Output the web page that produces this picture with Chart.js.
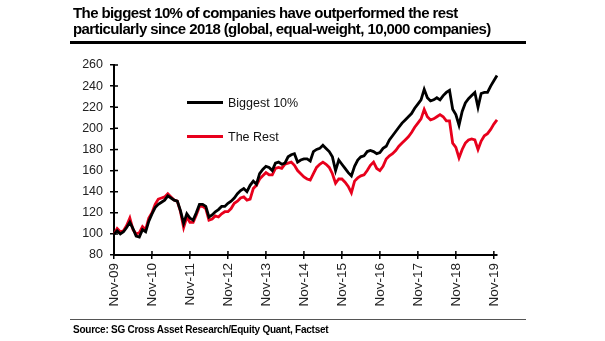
<!DOCTYPE html>
<html>
<head>
<meta charset="utf-8">
<script src="https://cdn.jsdelivr.net/npm/chart.js@4.4.0/dist/chart.umd.min.js"></script>
<style>
  body { margin: 0; background: #fff; font-family: "Liberation Sans", Arial, sans-serif; }
  #wrap { position: relative; width: 605px; height: 341px; overflow: hidden; }
  #myChart { position: absolute; left: 0; top: 0; }
  .title { position: absolute; left: 73px; top: 5px; font-size: 15px; font-weight: bold; line-height: 16px; letter-spacing: -0.6px; color: #000; white-space: nowrap; }
  .rule { position: absolute; left: 70px; width: 456px; }
  .source { position: absolute; left: 73px; top: 324px; font-size: 10px; font-weight: bold; letter-spacing: -0.25px; color: #000; white-space: nowrap; }
  .leg { position: absolute; font-size: 12.5px; color: #111; white-space: nowrap; }
  .leg span { display: inline-block; width: 36px; height: 3px; vertical-align: middle; margin-right: 5px; position: relative; top: -1px; }
</style>
</head>
<body>
<div id="wrap">
  <canvas id="myChart" width="605" height="341"></canvas>
  <div class="title">The biggest 10% of companies have outperformed the rest<br>particularly since 2018 (global, equal-weight, 10,000 companies)</div>
  <div class="rule" style="top:41px;height:3px;background:#000"></div>
  <div class="rule" style="top:319px;height:1px;background:#555"></div>
  <div class="source">Source: SG Cross Asset Research/Equity Quant, Factset</div>
  <div class="leg" style="left:187px;top:96px"><span style="background:#000"></span>Biggest 10%</div>
  <div class="leg" style="left:187px;top:130px"><span style="background:#e8001c"></span>The Rest</div>
</div>
<script>
// monthly, Nov-09 .. Dec-19
var monthNames = ['Jan','Feb','Mar','Apr','May','Jun','Jul','Aug','Sep','Oct','Nov','Dec'];
var startYear = 2009, startMonth = 10, nMonths = 122;

var biggest10 = [
    100, 103, 100, 102, 106, 111, 105, 98, 97, 104, 102, 112,
    119, 125, 128, 130, 132, 136, 134, 132, 131, 122, 110, 119,
    115, 113, 120, 128, 128, 126, 116, 118, 121, 123, 126, 126,
    129, 131, 134, 138, 141, 143, 140, 146, 150, 147, 157, 161,
    164, 163, 160, 167, 168, 166, 167, 173, 175, 176, 168, 170,
    171, 171, 169, 178, 180, 181, 184, 181, 178, 173, 160, 170,
    166, 162, 158, 155, 164, 170, 173, 174, 178, 179, 178, 176,
    177, 181, 183, 189, 193, 197, 201, 205, 208, 211, 214, 219,
    223, 227, 237, 229, 226, 227, 229, 227, 231, 234, 236, 218,
    213, 203, 216, 224, 228, 231, 234, 220, 233, 234, 234, 240,
    245, 250
];

var theRest = [
    100, 105, 102, 103, 108, 115, 104, 100, 101, 107, 104, 115,
    120, 128, 133, 134, 135, 138, 135, 132, 131, 121, 106, 116,
    111, 111, 118, 126, 126, 124, 113, 114, 117, 116, 119, 121,
    121, 124, 129, 131, 134, 135, 132, 133, 143, 146, 152, 155,
    158, 156, 156, 162, 163, 162, 166, 167, 168, 165, 160, 157,
    154, 152, 151, 157, 163, 166, 168, 166, 163, 157, 148, 152,
    152, 149, 145, 139, 150, 153, 155, 156, 160, 165, 168, 162,
    160, 164, 171, 174, 176, 179, 183, 186, 189, 192, 196, 201,
    205, 209, 218, 211, 208, 209, 211, 213, 211, 207, 207, 186,
    182, 172, 180, 186, 189, 190, 189, 180, 188, 193, 195, 199,
    204, 208
];

var yTicks = [80, 100, 120, 140, 160, 180, 200, 220, 240, 260];

var labels = [];
for (var i = 0; i < nMonths; i++) {
    var m = (startMonth + i) % 12;
    var y = startYear + Math.floor((startMonth + i) / 12);
    labels.push(monthNames[m] + '-' + String(y).slice(2));
}

// small tick marks on the inner side of both axes
var innerTicks = {
    id: 'innerTicks',
    afterDraw: function(chart) {
        var ctx = chart.ctx, a = chart.chartArea;
        var xs = chart.scales.x, ys = chart.scales.y;
        ctx.save();
        ctx.strokeStyle = '#000';
        ctx.lineWidth = 1.5;
        ctx.beginPath();
        for (var i = 0; i < labels.length; i += 12) {
            var px = xs.getPixelForValue(i);
            ctx.moveTo(px, a.bottom);
            ctx.lineTo(px, a.bottom - 4);
        }
        yTicks.forEach(function(v) {
            var py = ys.getPixelForValue(v);
            ctx.moveTo(a.left, py);
            ctx.lineTo(a.left + 4, py);
        });
        ctx.stroke();
        ctx.restore();
    }
};

const ctx = document.getElementById('myChart').getContext('2d');
const myChart = new Chart(ctx, {
    type: 'line',
    data: {
        labels: labels,
        datasets: [{
            label: 'Biggest 10%',
            data: biggest10,
            borderColor: '#000000',
            borderWidth: 2.8,
            pointRadius: 0,
            tension: 0
        }, {
            label: 'The Rest',
            data: theRest,
            borderColor: '#e8001c',
            borderWidth: 2.8,
            pointRadius: 0,
            tension: 0
        }]
    },
    options: {
        responsive: false,
        animation: false,
        layout: { padding: { top: 65, left: 0, right: 108, bottom: 0 } },
        plugins: { legend: { display: false }, tooltip: { enabled: false } },
        scales: {
            x: {
                type: 'category',
                offset: false,
                afterFit: function(scale) { scale.height = 86; },
                border: { display: true, color: '#000', width: 2 },
                grid: { drawOnChartArea: false, drawTicks: true, tickLength: 4, color: '#000', lineWidth: 1.5 },
                ticks: {
                    autoSkip: false,
                    maxRotation: 90,
                    minRotation: 90,
                    padding: 4,
                    color: '#222',
                    font: { family: 'Liberation Sans', size: 13.5 },
                    callback: function(val, idx) { return idx % 12 === 0 ? labels[idx] : null; }
                }
            },
            y: {
                min: 80,
                max: 260,
                afterFit: function(scale) { scale.width = 114; },
                border: { display: true, color: '#000', width: 2 },
                grid: { drawOnChartArea: false, drawTicks: true, tickLength: 4, color: '#000', lineWidth: 1.5 },
                ticks: {
                    stepSize: 20,
                    padding: 7,
                    color: '#222',
                    font: { family: 'Liberation Sans', size: 12.5 }
                }
            }
        }
    },
    plugins: [innerTicks]
});
</script>
</body>
</html>
